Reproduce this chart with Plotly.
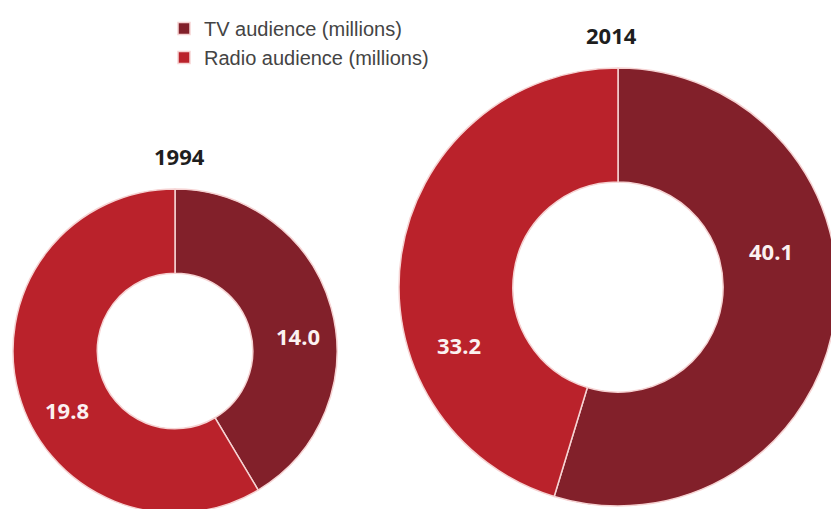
import plotly.graph_objects as go

# Audience figures (millions)
series_labels = ["TV audience (millions)", "Radio audience (millions)"]
years = ["1994", "2014"]
tv_audience = [14.0, 40.1]
radio_audience = [19.8, 33.2]

# Styling
colors = ["#82202a", "#ba222b"]
W, H = 840, 516


def px_x(x):
    return x / W


def px_y(y):
    return (H - y) / H


# Ring bounding boxes in pixels: (left, top, right, bottom)
ring_boxes = [(13, 189, 337, 513), (399, 68, 837, 506)]
# Year title centres and value-label centres in pixels
title_pos = [(179, 156), (611, 35)]
value_pos = [[(298, 336), (67, 410)], [(771, 251), (459, 345)]]

fig = go.Figure()
for i, year in enumerate(years):
    l, t, r, b = ring_boxes[i]
    vals = [tv_audience[i], radio_audience[i]]
    fig.add_trace(go.Pie(
        labels=series_labels,
        values=vals,
        hole=0.48,
        sort=False,
        direction="clockwise",
        rotation=0,
        marker=dict(colors=colors, line=dict(color="#f6d3d3", width=1.5)),
        textinfo="none",
        hoverinfo="label+value",
        domain=dict(x=[px_x(l), px_x(r)], y=[px_y(b), px_y(t)]),
        showlegend=(i == 0),
    ))
    fig.add_annotation(
        x=px_x(title_pos[i][0]), y=px_y(title_pos[i][1]),
        xref="paper", yref="paper", xanchor="center", yanchor="middle",
        text=f"<b>{year}</b>", showarrow=False,
        font=dict(family="Open Sans", size=22, color="#1e1e1e"),
    )
    for (lx, ly), v in zip(value_pos[i], vals):
        fig.add_annotation(
            x=px_x(lx), y=px_y(ly),
            xref="paper", yref="paper", xanchor="center", yanchor="middle",
            text=f"<b>{v:.1f}</b>", showarrow=False,
            font=dict(family="Open Sans", size=22, color="#fbf1f1"),
        )

fig.update_layout(
    width=W, height=H,
    margin=dict(l=0, r=0, t=0, b=0),
    paper_bgcolor="white",
    plot_bgcolor="white",
    legend=dict(
        x=px_x(164), y=px_y(9), xanchor="left", yanchor="top",
        font=dict(family="Liberation Sans, Arial", size=20, color="#444444"),
        bgcolor="rgba(0,0,0,0)",
        traceorder="normal",
        tracegroupgap=0,
    ),
)

fig.write_html(
    "out.html",
    post_script="document.documentElement.style.overflow='hidden';document.body.style.overflow='hidden';",
)
